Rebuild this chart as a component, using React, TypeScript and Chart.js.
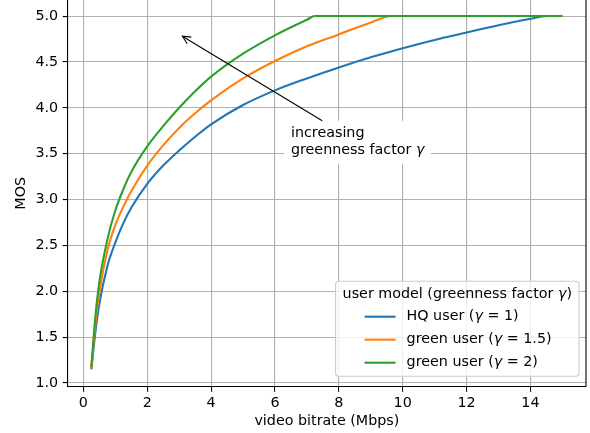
import React, { useEffect, useRef } from "react";
import { Chart, registerables } from "chart.js";

Chart.register(...registerables);

// ---- data ----
const bitrateHQ = [0.25, 0.375, 0.5, 0.75, 1, 1.25, 1.5, 2, 2.5, 3, 3.5, 4, 5, 6, 7, 8, 9, 10, 11, 12, 13, 14, 14.5, 15];
const mosHQ = [1.15, 1.55, 1.86, 2.27, 2.53, 2.74, 2.91, 3.17, 3.37, 3.535, 3.685, 3.82, 4.03, 4.19, 4.32, 4.44, 4.55, 4.65, 4.74, 4.82, 4.9, 4.97, 5.0, 5.0];

const bitrateGreen15 = [0.25, 0.375, 0.5, 0.75, 1, 1.25, 1.5, 2, 2.5, 3, 3.5, 4, 5, 6, 7, 8, 9, 9.65, 11, 13, 15];
const mosGreen15 = [1.16, 1.64, 1.98, 2.44, 2.72, 2.92, 3.09, 3.37, 3.59, 3.78, 3.94, 4.08, 4.32, 4.51, 4.67, 4.8, 4.93, 5.0, 5.0, 5.0, 5.0];

const bitrateGreen2 = [0.25, 0.375, 0.5, 0.75, 1, 1.25, 1.5, 2, 2.5, 3, 3.5, 4, 5, 6, 7, 7.25, 9, 11, 13, 15];
const mosGreen2 = [1.17, 1.72, 2.1, 2.56, 2.88, 3.11, 3.3, 3.58, 3.8, 4.0, 4.18, 4.34, 4.59, 4.79, 4.96, 5.0, 5.0, 5.0, 5.0, 5.0];

const xTicks = [0, 2, 4, 6, 8, 10, 12, 14];
const yTicks = [1.0, 1.5, 2.0, 2.5, 3.0, 3.5, 4.0, 4.5, 5.0];

const seriesNames = ["HQ user", "green user", "green user"];
const seriesGamma = ["1", "1.5", "2"];
const seriesColors = ["#1f77b4", "#ff7f0e", "#2ca02c"];
const legendTitle = ["user model (greenness factor ", ")"];

const annotText = ["increasing", "greenness factor "];
const annotTextPos = { x: 6.5, y: 3.5 };
const annotArrowTip = { x: 3.1, y: 4.78 };

const FONT = "DejaVu Sans";
const FS = 14.3;

function drawSegments(ctx: CanvasRenderingContext2D, segs: [string, boolean][], x: number, y: number) {
  let cx = x;
  for (const [t, it] of segs) {
    ctx.font = `${it ? "italic " : ""}${FS}px "${FONT}"`;
    ctx.fillText(t, cx, y);
    cx += ctx.measureText(t).width;
  }
  return cx - x;
}
function measureSegments(ctx: CanvasRenderingContext2D, segs: [string, boolean][]) {
  let w = 0;
  for (const [t, it] of segs) {
    ctx.font = `${it ? "italic " : ""}${FS}px "${FONT}"`;
    w += ctx.measureText(t).width;
  }
  return w;
}

const extrasPlugin = {
  id: "extras",
  afterDatasetsDraw(chart: any) {
    const ctx: CanvasRenderingContext2D = chart.ctx;
    const { chartArea } = chart;
    const xs = chart.scales.x;
    const ys = chart.scales.y;
    ctx.save();
    // right spine
    ctx.strokeStyle = "#000";
    ctx.lineWidth = 1.1;
    ctx.beginPath();
    ctx.moveTo(chartArea.right, chartArea.top);
    ctx.lineTo(chartArea.right, chartArea.bottom);
    ctx.stroke();

    // annotation text box
    const tx = xs.getPixelForValue(annotTextPos.x);
    const ty = ys.getPixelForValue(annotTextPos.y);
    const lh = 16.5;
    const line2: [string, boolean][] = [[annotText[1], false], ["γ", true]];
    const w2 = measureSegments(ctx, line2);
    ctx.font = `${FS}px "${FONT}"`;
    const w1 = ctx.measureText(annotText[0]).width;
    const bw = Math.max(w1, w2);
    const pad = 6.5;
    const boxTop = ty - lh - FS * 0.76 - pad + 1;
    const boxBottom = ty + FS * 0.24 + pad;
    ctx.fillStyle = "#fff";
    ctx.fillRect(tx - pad, boxTop, bw + 2 * pad, boxBottom - boxTop);
    ctx.fillStyle = "#000";
    ctx.textBaseline = "alphabetic";
    ctx.textAlign = "left";
    ctx.font = `${FS}px "${FONT}"`;
    ctx.fillText(annotText[0], tx, ty - lh);
    drawSegments(ctx, line2, tx, ty);

    // arrow
    const hx = xs.getPixelForValue(annotArrowTip.x);
    const hy = ys.getPixelForValue(annotArrowTip.y);
    const cxm = tx + bw / 2;
    const cym = (boxTop + boxBottom) / 2;
    const t = (cym - boxTop) / (cym - hy);
    const sx = cxm + (hx - cxm) * t;
    const sy = boxTop;
    ctx.strokeStyle = "#000";
    ctx.lineWidth = 1.1;
    ctx.beginPath();
    ctx.moveTo(sx, sy);
    ctx.lineTo(hx, hy);
    ctx.stroke();
    const ang = Math.atan2(sy - hy, sx - hx);
    const al = 9;
    const aw = 0.45;
    ctx.beginPath();
    ctx.moveTo(hx + al * Math.cos(ang + aw), hy + al * Math.sin(ang + aw));
    ctx.lineTo(hx, hy);
    ctx.lineTo(hx + al * Math.cos(ang - aw), hy + al * Math.sin(ang - aw));
    ctx.stroke();

    // legend
    const titleSegs: [string, boolean][] = [[legendTitle[0], false], ["γ", true], [legendTitle[1], false]];
    const titleW = measureSegments(ctx, titleSegs);
    const boxW = titleW + 14;
    const boxH = 95;
    const bx = chartArea.right - 7 - boxW;
    const by = chartArea.bottom - 10.5 - boxH;
    ctx.fillStyle = "rgba(255,255,255,0.8)";
    ctx.strokeStyle = "#cccccc";
    ctx.lineWidth = 1.1;
    ctx.beginPath();
    (ctx as any).roundRect(bx, by, boxW, boxH, 3);
    ctx.fill();
    ctx.stroke();
    ctx.fillStyle = "#000";
    ctx.textBaseline = "middle";
    drawSegments(ctx, titleSegs, bx + 7, by + 13);
    for (let i = 0; i < seriesNames.length; i++) {
      const ey = by + 35.5 + i * 23;
      ctx.strokeStyle = seriesColors[i];
      ctx.lineWidth = 2.1;
      ctx.beginPath();
      ctx.moveTo(bx + 29, ey);
      ctx.lineTo(bx + 60, ey);
      ctx.stroke();
      ctx.fillStyle = "#000";
      drawSegments(
        ctx,
        [
          [seriesNames[i] + " (", false],
          ["γ", true],
          [" = " + seriesGamma[i] + ")", false],
        ],
        bx + 71,
        ey
      );
    }
    ctx.restore();
  },
};

export default function App() {
  const ref = useRef<HTMLCanvasElement | null>(null);
  useEffect(() => {
    if (!ref.current) return;
    const mk = (xs: number[], vals: number[]) => xs.map((x, i) => ({ x, y: vals[i] }));
    const chart = new Chart(ref.current, {
      type: "line",
      data: {
        datasets: [
          { label: "HQ user (γ = 1)", data: mk(bitrateHQ, mosHQ), borderColor: seriesColors[0], order: 3 },
          { label: "green user (γ = 1.5)", data: mk(bitrateGreen15, mosGreen15), borderColor: seriesColors[1], order: 2 },
          { label: "green user (γ = 2)", data: mk(bitrateGreen2, mosGreen2), borderColor: seriesColors[2], order: 1 },
        ].map((d) => ({
          ...d,
          borderWidth: 2.1,
          pointRadius: 0,
          fill: false,
          cubicInterpolationMode: "monotone" as const,
        })),
      },
      options: {
        responsive: false,
        animation: false,
        layout: { padding: { left: 0, right: 4, top: 0, bottom: 0 } },
        plugins: { legend: { display: false }, tooltip: { enabled: false } },
        scales: {
          x: {
            type: "linear",
            min: -0.49,
            max: 15.74,
            afterBuildTicks: (s: any) => {
              s.ticks = xTicks.map((v) => ({ value: v }));
            },
            afterFit: (s: any) => {
              s.height = 46.3;
              s.paddingLeft = 0;
              s.paddingRight = 0;
            },
            grid: { color: "#b0b0b0", lineWidth: 1.1, tickColor: "#000", tickLength: 5, tickWidth: 1.1 },
            border: { display: true, color: "#000", width: 1.1 },
            ticks: {
              color: "#000",
              font: { family: FONT, size: FS },
              padding: 3,
              maxRotation: 0,
              callback: (v: any) => String(v),
            },
            title: {
              display: true,
              text: "video bitrate (Mbps)",
              color: "#000",
              font: { family: FONT, size: FS },
              padding: { top: 0, bottom: 3 },
            },
          },
          y: {
            type: "linear",
            min: 0.96,
            max: 5.175,
            afterBuildTicks: (s: any) => {
              s.ticks = yTicks.map((v) => ({ value: v }));
            },
            afterFit: (s: any) => {
              s.width = 67.7;
              s.paddingTop = 0;
              s.paddingBottom = 0;
            },
            grid: { color: "#b0b0b0", lineWidth: 1.1, tickColor: "#000", tickLength: 5, tickWidth: 1.1 },
            border: { display: true, color: "#000", width: 1.1 },
            ticks: {
              color: "#000",
              font: { family: FONT, size: FS },
              padding: 4.5,
              callback: (v: any) => Number(v).toFixed(1),
            },
            title: {
              display: true,
              text: "MOS",
              color: "#000",
              font: { family: FONT, size: FS },
              padding: { top: 13, bottom: 0 },
            },
          },
        },
      },
      plugins: [extrasPlugin],
    });
    return () => chart.destroy();
  }, []);
  return (
    <div style={{ position: "absolute", left: 0, top: 0, width: 590, height: 433 }}>
      <canvas ref={ref} width={590} height={433} />
    </div>
  );
}
